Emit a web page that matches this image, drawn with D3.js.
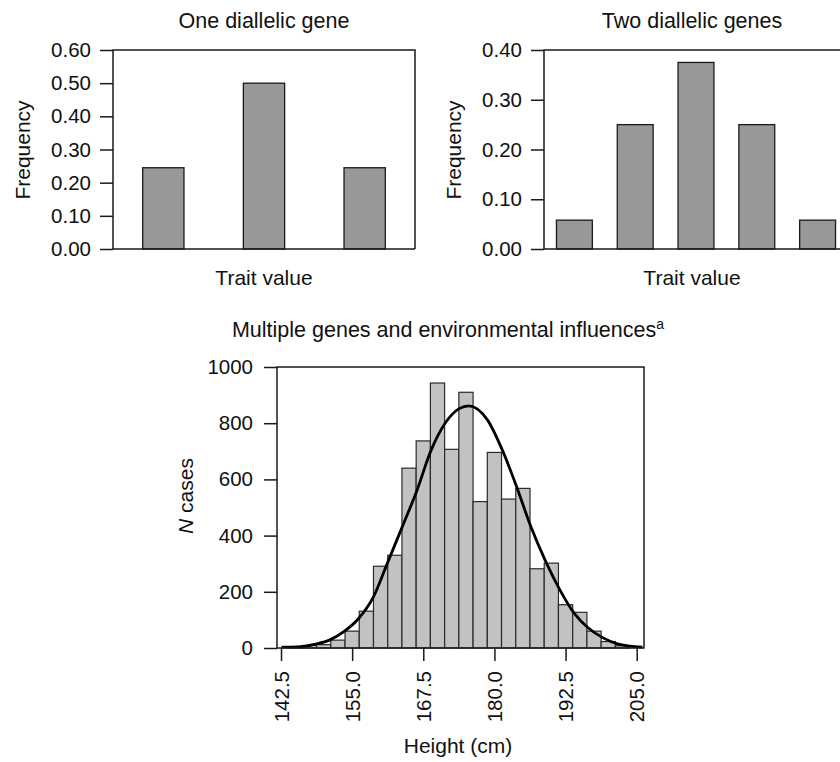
<!DOCTYPE html>
<html>
<head>
<meta charset="utf-8">
<script src="https://cdn.jsdelivr.net/npm/d3@7"></script>
<style>
  body { margin: 0; background: #fff; }
  svg { display: block; font-family: "Liberation Sans", Arial, Helvetica, sans-serif; }
  .tick text { font-size: 20.5px; fill: #111; }
  .label { font-size: 21px; fill: #111; }
  .title { font-size: 21.5px; fill: #111; }
</style>
</head>
<body>
<svg id="chart" width="840" height="762"></svg>
<script>
// panel 1 + 2 : frequency of trait values
const oneGeneValues = [0.245, 0.5, 0.245];
const twoGeneValues = [0.058, 0.25, 0.375, 0.25, 0.058];
const oneGeneTicks = [0, 0.1, 0.2, 0.3, 0.4, 0.5, 0.6];
const twoGeneTicks = [0, 0.1, 0.2, 0.3, 0.4];

// panel 3 : height histogram (bin centres, 2.5 cm wide)
const heightBins = [145, 147.5, 150, 152.5, 155, 157.5, 160, 162.5, 165, 167.5, 170, 172.5,
  175, 177.5, 180, 182.5, 185, 187.5, 190, 192.5, 195, 197.5, 200, 202.5];
const heightCounts = [3, 9, 12, 28, 60, 131, 291, 330, 640, 737, 943, 707,
  910, 521, 696, 530, 568, 282, 302, 154, 127, 60, 23, 8];
const heightTicks = [142.5, 155, 167.5, 180, 192.5, 205];
const countTicks = [0, 200, 400, 600, 800, 1000];

// fitted curve
const curveHeights = [142.6, 145.3, 148.6, 151.1, 153.6, 156.1, 158.7, 161.2, 163.7, 166.3, 168.9, 171.3,
  173.8, 175.5, 178.8, 181.4, 183.9, 186.4, 189, 191.5, 194, 196.5, 199.1, 201.6, 206];
const curveCounts = [3, 4, 14, 29, 59, 104, 180, 302, 426, 556, 705, 799,
  852, 862, 811, 704, 574, 432, 308, 207, 124, 71, 36, 15, 3];

const svg = d3.select('#chart');
const ink = '#1a1a1a';

function drawBarPanel(cfg) {
  const g = svg.append('g');
  const x = d3.scaleBand()
    .domain(cfg.values.map((d, i) => i))
    .range([cfg.left, cfg.right])
    .paddingInner(cfg.pad)
    .paddingOuter(cfg.pad / 2);
  const y = d3.scaleLinear().domain([0, cfg.max]).range([cfg.bottom, cfg.top]);

  g.selectAll('rect')
    .data(cfg.values)
    .join('rect')
    .attr('x', (d, i) => x(i))
    .attr('width', x.bandwidth())
    .attr('y', (d) => y(d))
    .attr('height', (d) => y(0) - y(d))
    .attr('fill', '#989898')
    .attr('stroke', ink)
    .attr('stroke-width', 1.3);

  // frame: left, top, bottom (+ right if it fits)
  const frameRight = Math.min(cfg.right, 840);
  const frame = d3.path();
  if (cfg.right <= 840) {
    frame.moveTo(frameRight, cfg.bottom);
    frame.lineTo(frameRight, cfg.top);
  } else {
    frame.moveTo(frameRight, cfg.top);
  }
  frame.lineTo(cfg.left, cfg.top);
  frame.lineTo(cfg.left, cfg.bottom);
  frame.lineTo(frameRight, cfg.bottom);
  g.append('path').attr('d', frame.toString()).attr('fill', 'none')
    .attr('stroke', ink).attr('stroke-width', 1.5);

  const axis = g.append('g')
    .attr('transform', `translate(${cfg.left},0)`)
    .call(d3.axisLeft(y).tickValues(cfg.ticks).tickFormat(d3.format('.2f')).tickSize(13).tickPadding(9));
  axis.select('.domain').remove();
  axis.selectAll('.tick line').attr('stroke', ink).attr('stroke-width', 1.5);

  g.append('text').attr('class', 'title')
    .attr('x', cfg.titleX).attr('y', 28).attr('text-anchor', 'middle')
    .text(cfg.title);
  g.append('text').attr('class', 'label')
    .attr('x', cfg.titleX).attr('y', 285).attr('text-anchor', 'middle')
    .text('Trait value');
  g.append('text').attr('class', 'label')
    .attr('transform', `translate(${cfg.yLabelX},150) rotate(-90)`)
    .attr('text-anchor', 'middle')
    .text('Frequency');
}

drawBarPanel({
  values: oneGeneValues, ticks: oneGeneTicks, max: 0.6,
  left: 113, right: 415, top: 50, bottom: 249, pad: 0.59,
  title: 'One diallelic gene', titleX: 264, yLabelX: 30
});

drawBarPanel({
  values: twoGeneValues, ticks: twoGeneTicks, max: 0.4,
  left: 544, right: 848, top: 50, bottom: 249, pad: 0.41,
  title: 'Two diallelic genes', titleX: 692, yLabelX: 461
});

/* ---------- histogram panel ---------- */
const hist = svg.append('g');
const boxL = 277, boxR = 644, boxT = 367, boxB = 648;
const x = d3.scaleLinear().domain([142.5, 205]).range([281, 636.7]);
const y = d3.scaleLinear().domain([0, 1000]).range([boxB, boxT]);
const binW = 2.5;

hist.selectAll('rect')
  .data(heightBins)
  .join('rect')
  .attr('x', (d) => x(d - binW / 2))
  .attr('width', (d) => x(d + binW / 2) - x(d - binW / 2))
  .attr('y', (d, i) => y(heightCounts[i]))
  .attr('height', (d, i) => y(0) - y(heightCounts[i]))
  .attr('fill', '#c2c2c2')
  .attr('stroke', '#2a2a2a')
  .attr('stroke-width', 1.2);

const line = d3.line()
  .x((d) => x(d[0]))
  .y((d) => y(d[1]))
  .curve(d3.curveMonotoneX);
hist.append('path')
  .datum(curveHeights.map((h, i) => [h, curveCounts[i]]))
  .attr('d', line)
  .attr('fill', 'none')
  .attr('stroke', '#000')
  .attr('stroke-width', 2.8);

hist.append('rect')
  .attr('x', boxL).attr('y', boxT)
  .attr('width', boxR - boxL).attr('height', boxB - boxT)
  .attr('fill', 'none').attr('stroke', ink).attr('stroke-width', 1.5);

const yAxis = hist.append('g')
  .attr('transform', `translate(${boxL},0)`)
  .call(d3.axisLeft(y).tickValues(countTicks).tickFormat(d3.format('d')).tickSize(13).tickPadding(11));
yAxis.select('.domain').remove();
yAxis.selectAll('.tick line').attr('stroke', ink).attr('stroke-width', 1.5);

const xAxis = hist.append('g')
  .attr('transform', `translate(0,${boxB})`)
  .call(d3.axisBottom(x).tickValues(heightTicks).tickFormat(d3.format('.1f')).tickSize(13));
xAxis.select('.domain').remove();
xAxis.selectAll('.tick line').attr('stroke', ink).attr('stroke-width', 1.5);
xAxis.selectAll('.tick text')
  .attr('transform', 'rotate(-90)')
  .attr('text-anchor', 'end')
  .attr('x', -23)
  .attr('y', 0)
  .attr('dy', '0.35em');

const title = hist.append('text').attr('class', 'title')
  .attr('x', 448).attr('y', 337).attr('text-anchor', 'middle');
title.append('tspan').text('Multiple genes and environmental influences');
title.append('tspan').attr('dy', -8).attr('font-size', 14).text('a');

hist.append('text').attr('class', 'label')
  .attr('x', 458).attr('y', 753).attr('text-anchor', 'middle')
  .text('Height (cm)');

const yl = hist.append('text').attr('class', 'label')
  .attr('transform', 'translate(193,496) rotate(-90)')
  .attr('text-anchor', 'middle');
yl.append('tspan').attr('font-style', 'italic').text('N');
yl.append('tspan').text(' cases');
</script>
</body>
</html>
